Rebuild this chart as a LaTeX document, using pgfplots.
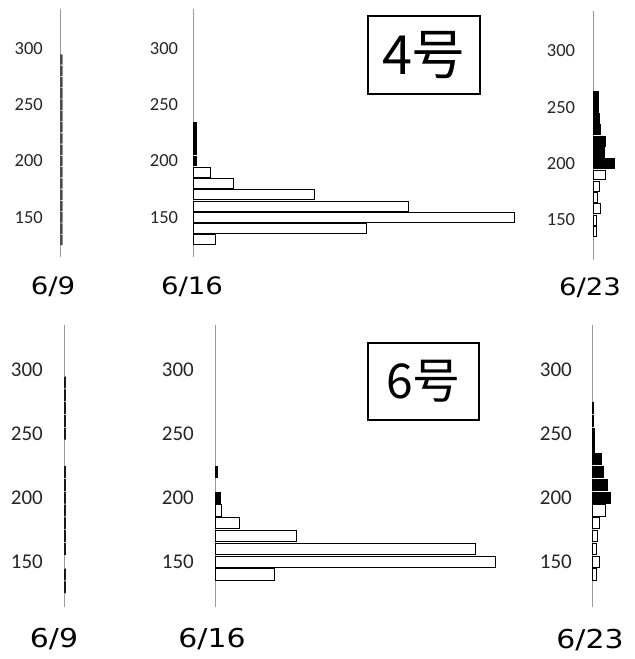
\documentclass[border=0pt]{standalone}
\usepackage{pgfplots}
\pgfplotsset{compat=1.18}
\usepackage{fontspec}
\setmainfont{Carlito}
\newfontfamily\datefont{DejaVu Sans}
\newfontfamily\cjk{Noto Sans CJK SC}

\pgfplotsset{
  panel/.style={
    scale only axis, xmin=0, ymin=115, ymax=335,
    enlargelimits=false, clip=false,
    axis x line=none, axis y line=left,
    y axis line style={-, draw=gray!80, line width=0.9bp},
    ytick={150,200,250,300}, major tick length=0pt,
    /pgf/number format/assume math mode=true,
    yticklabel style={anchor=east, inner sep=0pt, text=black!85},
    anchor=north west,
  },
  wb/.style={xbar, bar shift=0pt, bar width=8.8, fill=white, draw=black, line width=0.9bp},
  bb/.style={xbar, bar shift=0pt, bar width=8.8, fill=black, draw=black, line width=0.9bp},
  gb/.style={xbar, bar shift=0pt, bar width=9.2, fill=black!70, draw=none},
  toprow/.style={height=248bp, yticklabel style={font=\fontsize{18.5bp}{20bp}\selectfont}},
  botrow/.style={height=281.6bp, yticklabel style={font=\fontsize{21bp}{23bp}\selectfont}},
}

\begin{document}
\begin{tikzpicture}
\path[use as bounding box] (0,0) rectangle (635bp,-659bp);

% ---- 4号 ----
\begin{axis}[panel, toprow, at={(60bp,-8.8bp)}, width=60bp, xmax=60,
  yticklabel style={xshift=-17bp}]
\addplot[gb] coordinates {(2.5,130) (2.5,140) (2.5,150) (2.5,160) (2.5,170) (2.5,180) (2.5,190)
  (2.5,200) (2.5,210) (2.5,220) (2.5,230) (2.5,240) (2.5,250) (2.5,260) (2.5,270) (2.5,280) (2.5,290)};
\end{axis}

\begin{axis}[panel, toprow, at={(193.3bp,-8.8bp)}, width=400bp, xmax=400,
  yticklabel style={xshift=-15bp}]
\addplot[wb] coordinates {(22,130) (173,140) (321,150) (215,160) (121,170) (40,180) (17,190)};
\addplot[bb] coordinates {(3,200) (3,210) (3,220) (3,230)};
\end{axis}

\begin{axis}[panel, toprow, at={(593.3bp,-11.5bp)}, width=40bp, xmax=40,
  yticklabel style={xshift=-18bp}]
\addplot[wb] coordinates {(3.3,140) (3.3,150) (7,160) (4,170) (6,180) (12.3,190)};
\addplot[bb] coordinates {(21,200) (10.7,210) (11.7,220) (7,230) (6,240) (5,250) (5,260)};
\end{axis}

% ---- 6号 ----
\begin{axis}[panel, botrow, at={(64bp,-324.9bp)}, width=60bp, xmax=60,
  yticklabel style={xshift=-21bp}]
\addplot[gb, fill=black!90] coordinates {(1.8,130) (1.8,140) (1.8,160) (1.8,170) (1.8,180)
  (1.8,190) (1.8,200) (1.8,210) (1.8,220) (1.8,250) (1.8,260) (1.8,270) (1.8,280) (1.8,290)};
\end{axis}

\begin{axis}[panel, botrow, at={(215bp,-324.9bp)}, width=350bp, xmax=350,
  yticklabel style={xshift=-21bp}]
\addplot[wb] coordinates {(59.3,140) (280.7,150) (260,160) (81.7,170) (24.3,180) (6.7,190)};
\addplot[bb] coordinates {(5,200) (2.7,220)};
\end{axis}

\begin{axis}[panel, botrow, at={(592bp,-324.9bp)}, width=40bp, xmax=40,
  yticklabel style={xshift=-20bp}]
\addplot[wb] coordinates {(4.7,140) (7.7,150) (4.7,160) (5.7,170) (7.7,180) (13.3,190)};
\addplot[bb] coordinates {(18.3,200) (15.3,210) (11,220) (9,230) (2.3,240) (2.3,250) (1.5,260) (1.7,270)};
\end{axis}

% date labels
\begin{scope}[every node/.style={font=\datefont\fontsize{24bp}{26bp}\selectfont, inner sep=0pt}]
\node at (53bp,-287bp) {\scalebox{1.15}[1]{6/9}};
\node at (192bp,-287bp) {\scalebox{1.15}[1]{6/16}};
\node at (590bp,-288bp) {\scalebox{1.15}[1]{6/23}};
\end{scope}
\begin{scope}[every node/.style={font=\datefont\fontsize{26bp}{28bp}\selectfont, inner sep=0pt}]
\node at (54bp,-639bp) {\scalebox{1.15}[1]{6/9}};
\node at (212bp,-639bp) {\scalebox{1.15}[1]{6/16}};
\node at (590bp,-640bp) {\scalebox{1.15}[1]{6/23}};
\end{scope}

% titles
\draw[line width=1.2bp] (368bp,-16bp) rectangle (480bp,-94bp);
\node[font=\cjk\fontsize{54bp}{56bp}\selectfont, inner sep=0pt] at (424bp,-55bp) {4号};
\draw[line width=1.2bp] (368bp,-343bp) rectangle (479bp,-420bp);
\node[font=\cjk\fontsize{48bp}{50bp}\selectfont, inner sep=0pt] at (423.5bp,-381bp) {6号};
\end{tikzpicture}
\end{document}
